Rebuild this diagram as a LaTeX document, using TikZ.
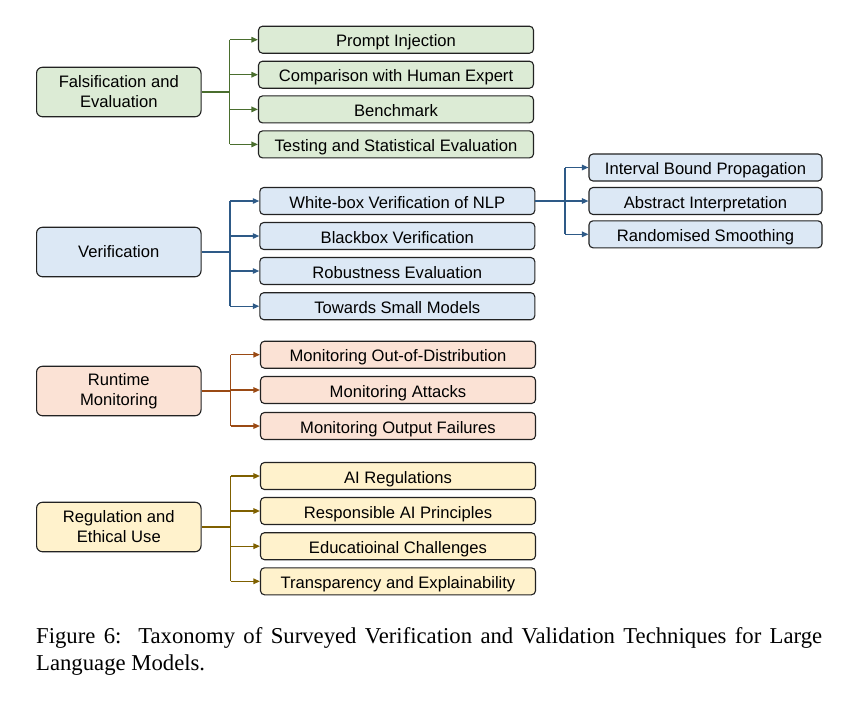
\documentclass[tikz,border=0pt]{standalone}
\usepackage{fontspec}
\setmainfont{Liberation Sans}
\newfontfamily\capfont{Liberation Serif}
\usetikzlibrary{arrows.meta}

% fills and connector colours of the four groups
\definecolor{gfill}{HTML}{DCEBD5}
\definecolor{gline}{HTML}{4A6E2E}
\definecolor{bfill}{HTML}{DCE8F5}
\definecolor{bline}{HTML}{2E5A87}
\definecolor{ofill}{HTML}{FBE2D5}
\definecolor{oline}{HTML}{9A4A14}
\definecolor{yfill}{HTML}{FFF2CC}
\definecolor{yline}{HTML}{7F6000}
\definecolor{edge}{HTML}{222222}

\tikzset{
  box/.style={draw=edge, line width=1.1pt, rounded corners=4pt, inner sep=0pt,
    font=\fontsize{16.6}{20}\selectfont, align=center, text=black},
  leaf/.style={box, minimum width=275pt, minimum height=27pt,
    text height=15pt, text depth=1pt},
  subleaf/.style={leaf, minimum width=233pt},
  rootbox/.style={box, rounded corners=6pt, minimum width=164.5pt, minimum height=49.5pt},
  trunk/.style={line width=1.9pt},
  spine/.style={line width=1.3pt},
  branch/.style={line width=1.3pt, -{Triangle[length=6.5pt,width=5.5pt]}},
}

\begin{document}
\begin{tikzpicture}[x=1pt, y=-1pt]
\useasboundingbox (0,0) rectangle (857,716);

% ---------- Falsification and Evaluation ----------
\node[rootbox, fill=gfill] (fe) at (118.8,92) {Falsification and\\Evaluation};
\node[leaf, fill=gfill] (fe1) at (396,39.7)  {Prompt Injection};
\node[leaf, fill=gfill] (fe2) at (396,74.7)  {Comparison with Human Expert};
\node[leaf, fill=gfill] (fe3) at (396,109.4) {Benchmark};
\node[leaf, fill=gfill] (fe4) at (396,144.4) {Testing and Statistical Evaluation};
\coordinate (feb) at (229.5,92);
\draw[trunk, gline] (fe.east) -- (feb);
\draw[spine, gline] (feb |- fe1.west) -- (feb |- fe4.west);
\foreach \c in {fe1,fe2,fe3,fe4}
  \draw[branch, gline] (feb |- \c.west) -- (\c.west);

% ---------- Verification ----------
\node[rootbox, fill=bfill] (ve) at (118.8,252) {Verification};
\node[leaf, fill=bfill] (ve1) at (397.3,201)   {White-box Verification of NLP};
\node[leaf, fill=bfill] (ve2) at (397.3,236)   {Blackbox Verification};
\node[leaf, fill=bfill] (ve3) at (397.3,271)   {Robustness Evaluation};
\node[leaf, fill=bfill] (ve4) at (397.3,306.2) {Towards Small Models};
\coordinate (veb) at (230,252);
\draw[trunk, bline] (ve.east) -- (veb);
\draw[spine, bline] (veb |- ve1.west) -- (veb |- ve4.west);
\foreach \c in {ve1,ve2,ve3,ve4}
  \draw[branch, bline] (veb |- \c.west) -- (\c.west);

\node[subleaf, fill=bfill] (wb1) at (705.5,167.5) {Interval Bound Propagation};
\node[subleaf, fill=bfill] (wb2) at (705.5,201)   {Abstract Interpretation};
\node[subleaf, fill=bfill] (wb3) at (705.5,234.3) {Randomised Smoothing};
\coordinate (wbb) at (565,201);
\draw[trunk, bline] (ve1.east) -- (wbb);
\draw[spine, bline] (wbb |- wb1.west) -- (wbb |- wb3.west);
\foreach \c in {wb1,wb2,wb3}
  \draw[branch, bline] (wbb |- \c.west) -- (\c.west);

% ---------- Runtime Monitoring ----------
\node[rootbox, fill=ofill] (rm) at (118.8,391) {Runtime\\Monitoring};
\node[leaf, fill=ofill] (rm1) at (398,354.7) {Monitoring Out-of-Distribution};
\node[leaf, fill=ofill] (rm2) at (398,390)   {Monitoring Attacks};
\node[leaf, fill=ofill] (rm3) at (398,426)   {Monitoring Output Failures};
\coordinate (rmb) at (230.7,391);
\draw[trunk, oline] (rm.east) -- (rmb);
\draw[spine, oline] (rmb |- rm1.west) -- (rmb |- rm3.west);
\foreach \c in {rm1,rm2,rm3}
  \draw[branch, oline] (rmb |- \c.west) -- (\c.west);

% ---------- Regulation and Ethical Use ----------
\node[rootbox, fill=yfill] (re) at (118.8,527) {Regulation and\\Ethical Use};
\node[leaf, fill=yfill] (re1) at (398,476)   {AI Regulations};
\node[leaf, fill=yfill] (re2) at (398,511)   {Responsible AI Principles};
\node[leaf, fill=yfill] (re3) at (398,546.2) {Educatioinal Challenges};
\node[leaf, fill=yfill] (re4) at (398,581.3) {Transparency and Explainability};
\coordinate (reb) at (230.7,527);
\draw[trunk, yline] (re.east) -- (reb);
\draw[spine, yline] (reb |- re1.west) -- (reb |- re4.west);
\foreach \c in {re1,re2,re3,re4}
  \draw[branch, yline] (reb |- \c.west) -- (\c.west);

% ---------- caption ----------
\node[anchor=north west, inner sep=0pt, text width=786pt, align=justify,
      font=\capfont\fontsize{22.7}{27}\selectfont] (cap) at (36,627.5)
  {Figure 6:\ \ Taxonomy of Surveyed Verification and Validation Techniques for Large Language Models.};
\end{tikzpicture}
\end{document}
